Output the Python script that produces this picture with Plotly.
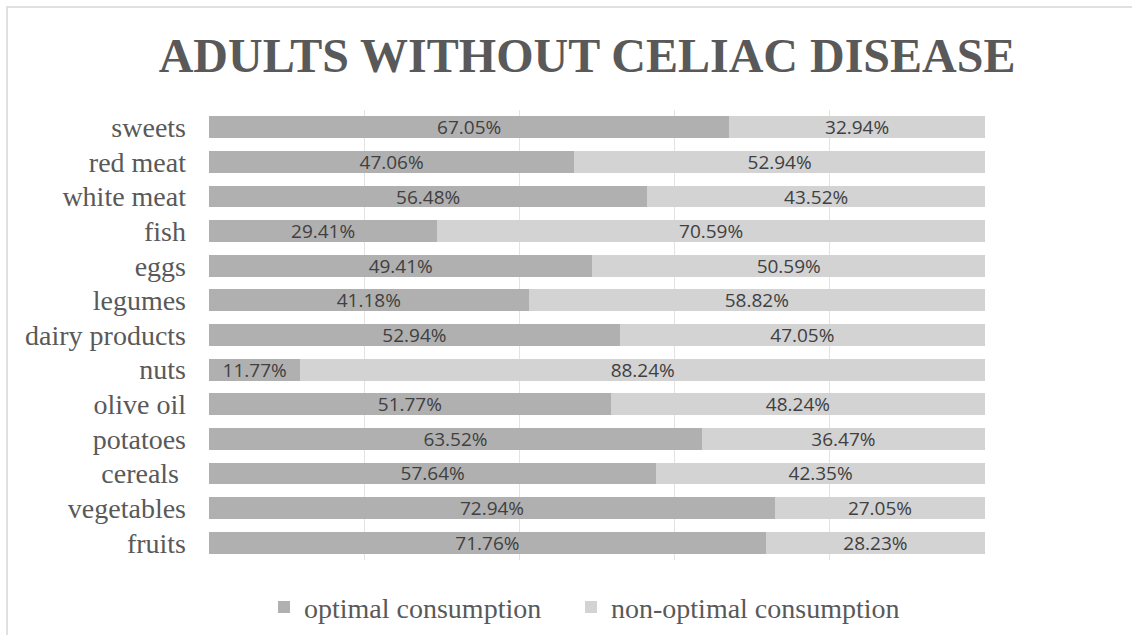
import plotly.graph_objects as go

categories = ["fruits", "vegetables", "cereals ", "potatoes", "olive oil", "nuts",
              "dairy products", "legumes", "eggs", "fish", "white meat", "red meat", "sweets"]
optimal = [71.76, 72.94, 57.64, 63.52, 51.77, 11.77, 52.94, 41.18, 49.41, 29.41, 56.48, 47.06, 67.05]
non_optimal = [28.23, 27.05, 42.35, 36.47, 48.24, 88.24, 47.05, 58.82, 50.59, 70.59, 43.52, 52.94, 32.94]
series_names = ["optimal consumption", "non-optimal consumption"]
colors = ["#b0b0b0", "#d3d3d3"]
legend_ids = ["legend", "legend2"]

fig = go.Figure()
for name, vals, col, lg in zip(series_names, [optimal, non_optimal], colors, legend_ids):
    fig.add_trace(go.Bar(
        y=categories, x=vals, name=name, orientation="h",
        marker=dict(color=col, line=dict(width=0)),
        text=[f"{v:.2f}%" for v in vals], textposition="inside",
        insidetextanchor="middle", constraintext="none",
        textfont=dict(family="Open Sans", size=19, color="#404040"),
        hoverinfo="skip", legend=lg,
    ))

legend_style = dict(orientation="h", xanchor="left", y=-0.105, yanchor="middle",
                    font=dict(family="Liberation Serif", size=28, color="#595959"),
                    itemwidth=30, bgcolor="rgba(0,0,0,0)")

fig.update_layout(
    barmode="stack", bargap=0.37,
    width=1132, height=635,
    margin=dict(l=209, r=147, t=110, b=75, autoexpand=False),
    paper_bgcolor="white", plot_bgcolor="white",
    title=dict(text="<b>ADULTS WITHOUT CELIAC DISEASE</b>",
               font=dict(family="Liberation Serif", size=48, color="#595959"),
               xref="container", x=0.5186, xanchor="center",
               yref="container", y=0.913, yanchor="middle"),
    xaxis=dict(range=[0, 100], dtick=20, showticklabels=False, showgrid=True,
               gridcolor="#e3e3e3", gridwidth=1, zeroline=False, showline=False),
    yaxis=dict(tickfont=dict(family="Liberation Serif", size=28, color="#595959"),
               ticklabelstandoff=22, showgrid=False, showline=False, zeroline=False),
    legend=dict(x=(264 - 209) / 776, **legend_style),
    legend2=dict(x=(571 - 209) / 776, **legend_style),
    showlegend=True,
    shapes=[dict(type="rect", xref="paper", yref="paper",
                 x0=(7 - 209) / 776, x1=(1250 - 209) / 776,
                 y0=(560 - 720) / 450, y1=(560 - 7) / 450,
                 line=dict(color="#e0e0e0", width=2), layer="below")],
)

fig.write_html("out.html")
